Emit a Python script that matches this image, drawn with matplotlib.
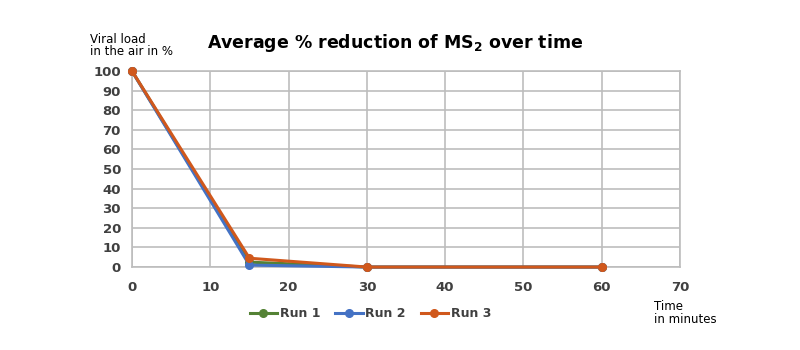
import numpy as np
import matplotlib.pyplot as plt

# data
minutes = [0, 15, 30, 60]
run1 = [100, 2.5, 0, 0]
run2 = [100, 1.0, 0, 0]
run3 = [100, 4.5, 0, 0]
series_names = ['Run 1', 'Run 2', 'Run 3']
xticks = [0, 10, 20, 30, 40, 50, 60, 70]
yticks = list(range(0, 101, 10))


def draw():
    fig = plt.figure(figsize=(8, 3.5), dpi=100)
    ax = fig.add_axes([0.165, 0.237, 0.685, 0.56])
    colors = ['#548235', '#4472c4', '#d0581c']
    for vals, name, c in zip([run1, run2, run3], series_names, colors):
        ax.plot(minutes, vals, color=c, lw=2.2, marker='o', ms=5.5, label=name,
                clip_on=False, zorder=3)
    ax.set_xlim(0, 70)
    ax.set_ylim(0, 100)
    ax.set_xticks(xticks)
    ax.set_yticks(yticks)
    ax.grid(True, color='#bdbdbd', lw=1.2)
    for s in ax.spines.values():
        s.set_color('#bdbdbd')
        s.set_linewidth(1.2)
    ax.tick_params(axis='y', length=0, labelsize=9.5, labelcolor='#404040', pad=8)
    ax.tick_params(axis='x', length=0, labelsize=9.5, labelcolor='#404040', pad=10)
    for lab in ax.get_xticklabels() + ax.get_yticklabels():
        lab.set_fontweight('bold')

    fig.text(0.494, 0.877, 'Average % reduction of MS$_\\mathbf{2}$ over time',
             ha='center', va='center', fontsize=12.5, fontweight='bold')
    fig.text(0.113, 0.87, 'Viral load\nin the air in %', ha='left', va='center',
             fontsize=8.5, linespacing=0.95)
    fig.text(0.818, 0.105, 'Time\nin minutes', ha='left', va='center',
             fontsize=8.5, linespacing=0.95)
    leg = fig.legend(loc='center', bbox_to_anchor=(0.463, 0.103), ncol=3, frameon=False,
                     handlelength=2.2, columnspacing=1.2, handletextpad=0.2,
                     prop={'weight': 'bold', 'size': 9})
    for t in leg.get_texts():
        t.set_color('#404040')
    plt.savefig('out.png')


if __name__ == '__main__':
    draw()
